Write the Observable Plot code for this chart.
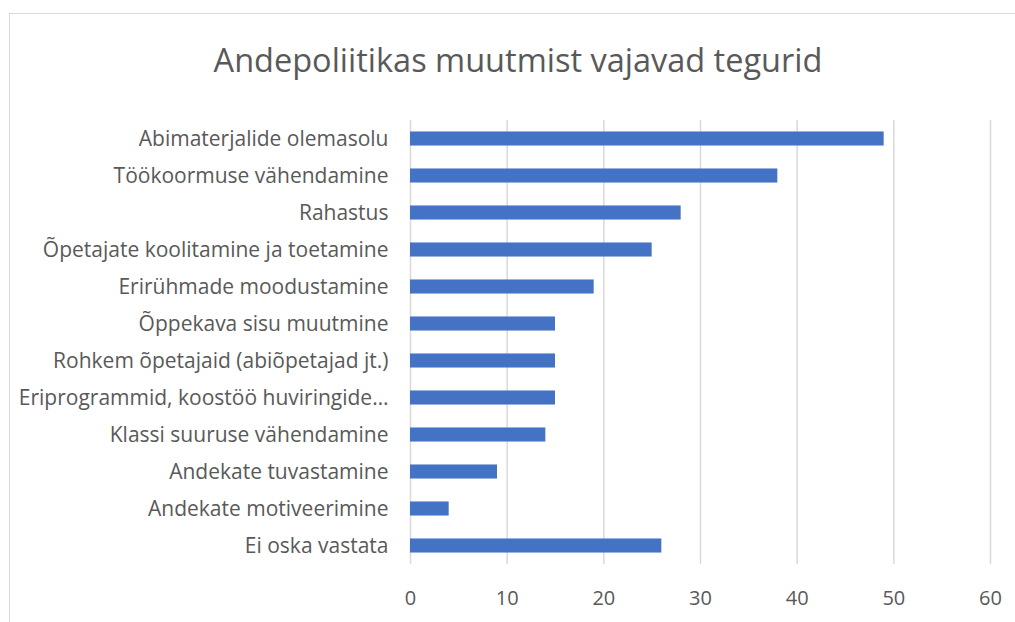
<!DOCTYPE html>
<html>
<head>
<meta charset="utf-8">
<script src="https://cdn.jsdelivr.net/npm/d3@7"></script>
<script src="https://cdn.jsdelivr.net/npm/@observablehq/plot@0.6"></script>
<style>
  html, body { margin: 0; padding: 0; background: #fff; overflow: hidden; }
  #wrap { position: relative; width: 1015px; height: 622px; }
  #frame { position: absolute; left: 9px; top: 13px; width: 1100px; height: 700px;
           border-top: 1.5px solid #d9d9d9; border-left: 1.5px solid #d9d9d9; }
  #title { position: absolute; left: 0; top: 37px; width: 1036px; text-align: center;
           font-family: "Open Sans", sans-serif; font-size: 32.5px; color: #595959; }
  #chart { position: absolute; left: 0; top: 100px; }
</style>
</head>
<body>
<div id="wrap">
  <div id="frame"></div>
  <div id="title">Andepoliitikas muutmist vajavad tegurid</div>
  <div id="chart"></div>
</div>
<script>
const categories = [
  "Abimaterjalide olemasolu",
  "Töökoormuse vähendamine",
  "Rahastus",
  "Õpetajate koolitamine ja toetamine",
  "Erirühmade moodustamine",
  "Õppekava sisu muutmine",
  "Rohkem õpetajaid (abiõpetajad jt.)",
  "Eriprogrammid, koostöö huviringide…",
  "Klassi suuruse vähendamine",
  "Andekate tuvastamine",
  "Andekate motiveerimine",
  "Ei oska vastata"
];
const values = [49, 38, 28, 25, 19, 15, 15, 15, 14, 9, 4, 26];
const xTicks = [0, 10, 20, 30, 40, 50, 60];

const data = categories.map((c, i) => ({category: c, value: values[i]}));

const chart = Plot.plot({
  width: 1015,
  height: 522,
  marginLeft: 410,
  marginRight: 25,
  marginTop: 20,
  marginBottom: 58,
  style: { fontFamily: "'Open Sans', sans-serif", fontSize: "20px", color: "#595959", background: "transparent" },
  x: { domain: [0, 60], ticks: xTicks, label: null },
  y: { domain: categories, label: null, paddingInner: 0.62, paddingOuter: 0.31, round: false },
  marks: [
    Plot.ruleX(xTicks, { stroke: "#d9d9d9", strokeWidth: 1.5 }),
    Plot.barX(data, { x: "value", y: "category", fill: "#4472C4" }),
    Plot.axisX({ ticks: xTicks, tickSize: 0, tickPadding: 26, label: null, fontSize: 20 }),
    Plot.axisY({ tickSize: 0, tickPadding: 22, label: null, fontSize: 21 })
  ]
});
document.getElementById("chart").appendChild(chart);
</script>
</body>
</html>
